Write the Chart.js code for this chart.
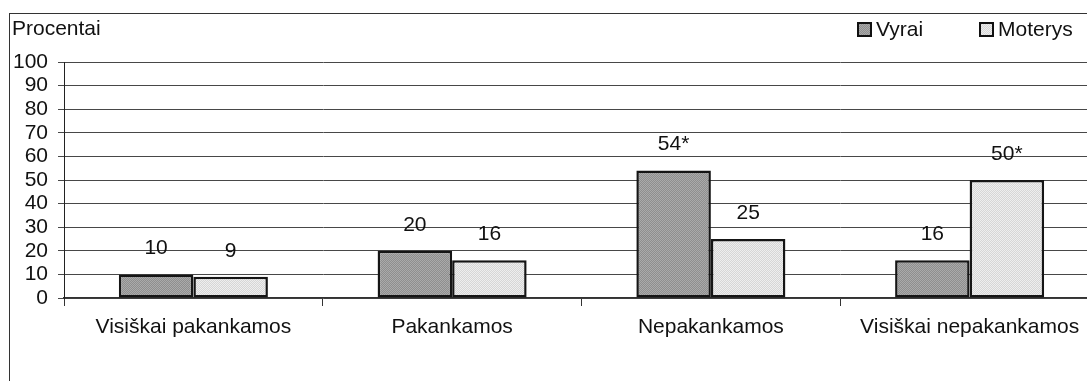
<!DOCTYPE html>
<html>
<head>
<meta charset="utf-8">
<script src="https://cdn.jsdelivr.net/npm/chart.js@4.4.1/dist/chart.umd.min.js"></script>
<style>
  html, body { margin: 0; padding: 0; background: #fff; overflow: hidden; width: 1087px; height: 381px; }
  #frame { position: absolute; left: 9px; top: 13px; width: 1200px; height: 500px; border: 1px solid #333; box-sizing: border-box; }
  #c { position: absolute; left: 0; top: 0; }
</style>
</head>
<body>
<div id="frame"></div>
<canvas id="c" width="1110" height="381"></canvas>
<script>
// Survey answers by category, percent of respondents
const categories = ['Visiškai pakankamos', 'Pakankamos', 'Nepakankamos', 'Visiškai nepakankamos'];
const seriesNames = ['Vyrai', 'Moterys'];
const vyrai = [10, 20, 54, 16];
const moterys = [9, 16, 25, 50];
// Value labels (asterisk marks a significant difference)
const vyraiMarks = ['', '', '*', ''];
const moterysMarks = ['', '', '', '*'];
const yMin = 0, yMax = 100, yStep = 10;
const yTitle = 'Procentai';

const FONT = '"Liberation Sans", Arial, sans-serif';
const FSIZE = 21;

// Stippled fills made from a tiny checker tile
function stipple(a, b) {
  const t = document.createElement('canvas');
  t.width = 2; t.height = 2;
  const g = t.getContext('2d');
  g.fillStyle = a; g.fillRect(0, 0, 2, 2);
  g.fillStyle = b; g.fillRect(0, 0, 1, 1); g.fillRect(1, 1, 1, 1);
  return g.createPattern(t, 'repeat');
}
const fillDark = stipple('#8e8e8e', '#aaaaaa');
const fillLight = stipple('#d6d6d6', '#eeeeee');
const fills = [fillDark, fillLight];

const valueLabels = {
  id: 'valueLabels',
  afterDatasetsDraw(chart) {
    const ctx = chart.ctx;
    ctx.save();
    ctx.font = FSIZE + 'px ' + FONT;
    ctx.fillStyle = '#111';
    ctx.textAlign = 'center';
    ctx.textBaseline = 'middle';
    const marks = [vyraiMarks, moterysMarks];
    chart.data.datasets.forEach((ds, di) => {
      chart.getDatasetMeta(di).data.forEach((bar, i) => {
        ctx.fillText(String(ds.data[i]) + marks[di][i], bar.x, bar.y - 26);
      });
    });
    ctx.restore();
  }
};

const extras = {
  id: 'extras',
  afterDraw(chart) {
    const ctx = chart.ctx;
    ctx.save();
    ctx.font = FSIZE + 'px ' + FONT;
    ctx.fillStyle = '#111';
    ctx.textBaseline = 'middle';
    ctx.textAlign = 'left';
    ctx.fillText(yTitle, 12, 29);
    // legend
    const xs = [858, 980];
    seriesNames.forEach((name, i) => {
      const x = xs[i];
      ctx.fillStyle = fills[i];
      ctx.fillRect(x, 23, 13, 13);
      ctx.strokeStyle = '#111';
      ctx.lineWidth = 2;
      ctx.strokeRect(x, 23, 13, 13);
      ctx.fillStyle = '#111';
      ctx.fillText(name, x + 18, 30);
    });
    ctx.restore();
  }
};

new Chart(document.getElementById('c'), {
  type: 'bar',
  data: {
    labels: categories,
    datasets: [
      { label: seriesNames[0], data: vyrai, backgroundColor: fillDark },
      { label: seriesNames[1], data: moterys, backgroundColor: fillLight }
    ]
  },
  options: {
    responsive: false,
    animation: false,
    devicePixelRatio: 1,
    layout: { padding: { left: 0, top: 62, right: 11, bottom: 0 } },
    datasets: {
      bar: {
        categoryPercentage: 0.576,
        barPercentage: 1,
        borderColor: '#151515',
        borderWidth: 2.5,
        borderSkipped: false
      }
    },
    plugins: { legend: { display: false }, tooltip: { enabled: false }, title: { display: false } },
    scales: {
      x: {
        grid: { offset: true, drawOnChartArea: false, tickLength: 8, color: '#333' },
        border: { color: '#333', width: 1.5 },
        ticks: { color: '#111', font: { size: FSIZE, family: FONT }, padding: 9, maxRotation: 0, autoSkip: false },
        afterFit(s) { s.height = 83; }
      },
      y: {
        min: yMin, max: yMax,
        ticks: { stepSize: yStep, autoSkip: false, color: '#111', font: { size: FSIZE, family: FONT }, padding: 10 },
        grid: { color: '#484848', lineWidth: 1, tickLength: 6 },
        border: { color: '#222', width: 1 },
        afterFit(s) { s.width = 64; }
      }
    }
  },
  plugins: [valueLabels, extras]
});
</script>
</body>
</html>
